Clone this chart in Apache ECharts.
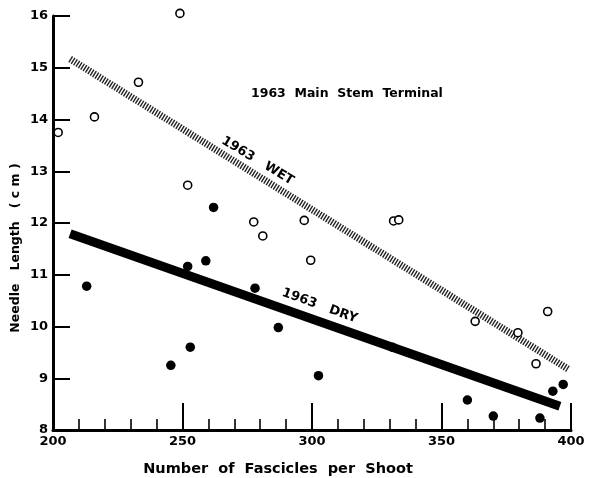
<!DOCTYPE html>
<html>
<head>
<meta charset="utf-8">
<script src="https://cdn.jsdelivr.net/npm/echarts@6/dist/echarts.min.js"></script>
<style>
html,body{margin:0;padding:0;background:#fff;}
#chart{width:592px;height:478px;}
</style>
</head>
<body>
<div id="chart"></div>
<script>
// Open circles: 1963 WET observations
var wetX = [202, 216, 233, 249, 252, 277.5, 281, 297, 299.5, 331.5, 333.5, 363, 379.5, 391, 386.5];
var wetY = [13.75, 14.05, 14.72, 16.05, 12.73, 12.02, 11.75, 12.05, 11.28, 12.04, 12.06, 10.1, 9.88, 10.29, 9.28];
// Filled circles: 1963 DRY observations
var dryX = [213, 252, 259, 262, 253, 245.5, 278, 287, 302.5, 331, 360, 370, 388, 393, 397];
var dryY = [10.78, 11.16, 11.27, 12.3, 9.6, 9.25, 10.74, 9.98, 9.05, 9.6, 8.58, 8.27, 8.23, 8.75, 8.88];
// Fitted regression lines [x, y] end points
var wetLine = [[206.6, 15.17], [398.8, 9.18]];
var dryLine = [[206.6, 11.79], [395.7, 8.46]];
// Line labels [x, y]
var wetLabelPos = [279, 13.2];
var dryLabelPos = [303, 10.4];
var xTicks = [200, 250, 300, 350, 400];
var yTicks = [8, 9, 10, 11, 12, 13, 14, 15, 16];

function zip(xs, ys) { return xs.map(function (x, i) { return [x, ys[i]]; }); }

var FONT = 'DejaVu Sans';
var chart = echarts.init(document.getElementById('chart'));
chart.setOption({
  animation: false,
  backgroundColor: '#fff',
  grid: { left: 53, right: 21, top: 16, bottom: 48 },
  xAxis: {
    type: 'value', min: xTicks[0], max: xTicks[xTicks.length - 1], interval: 50,
    axisLine: { lineStyle: { color: '#000', width: 3 } },
    axisTick: { inside: true, length: 27, lineStyle: { color: '#000', width: 2 } },
    minorTick: { show: true, splitNumber: 5, length: 11, lineStyle: { color: '#000', width: 1.6 } },
    splitLine: { show: false },
    axisLabel: { color: '#000', fontFamily: FONT, fontWeight: 'bold', fontSize: 13, margin: 5 }
  },
  yAxis: {
    type: 'value', min: yTicks[0], max: yTicks[yTicks.length - 1], interval: 1,
    axisLine: { lineStyle: { color: '#000', width: 3 } },
    axisTick: { inside: true, length: 17, lineStyle: { color: '#000', width: 2 } },
    splitLine: { show: false },
    axisLabel: { color: '#000', fontFamily: FONT, fontWeight: 'bold', fontSize: 13, margin: 5 }
  },
  graphic: [
    { type: 'text', left: 251, top: 87,
      style: { text: '1963  Main  Stem  Terminal', fill: '#000', font: 'bold 12.5px "DejaVu Sans"' } },
    { type: 'text', x: 16, y: 248, rotation: Math.PI / 2,
      style: { text: 'Needle   Length   ( c m )', fill: '#000', font: 'bold 12.5px "DejaVu Sans"', align: 'center', verticalAlign: 'middle' } },
    { type: 'text', x: 278, y: 469,
      style: { text: 'Number  of  Fascicles  per  Shoot', fill: '#000', font: 'bold 14.5px "DejaVu Sans"', align: 'center', verticalAlign: 'middle' } }
  ],
  series: [
    { name: 'wet fit', type: 'line', data: wetLine, symbol: 'none', z: 1,
      lineStyle: { color: '#222', width: 7, type: [1.4, 1.4], cap: 'butt' } },
    { name: 'dry fit', type: 'line', data: dryLine, symbol: 'none', z: 1,
      lineStyle: { color: '#000', width: 9, cap: 'butt' } },
    { name: 'wet', type: 'scatter', data: zip(wetX, wetY), symbol: 'circle', symbolSize: 8, z: 3, clip: false,
      itemStyle: { color: '#fff', borderColor: '#000', borderWidth: 1.6, opacity: 1 } },
    { name: 'dry', type: 'scatter', data: zip(dryX, dryY), symbol: 'circle', symbolSize: 9.5, z: 3, clip: false,
      itemStyle: { color: '#000', opacity: 1 } },
    { name: 'labels', type: 'scatter', symbolSize: 1, silent: true, z: 4, clip: false,
      itemStyle: { color: 'rgba(0,0,0,0)', opacity: 1 },
      data: [
        { value: wetLabelPos, label: { formatter: '1963   WET', rotate: -31 } },
        { value: dryLabelPos, label: { formatter: '1963   DRY', rotate: -20 } }
      ],
      label: { show: true, position: 'inside', color: '#000', opacity: 1, fontFamily: FONT, fontWeight: 'bold', fontSize: 13 } }
  ]
});
</script>
</body>
</html>
